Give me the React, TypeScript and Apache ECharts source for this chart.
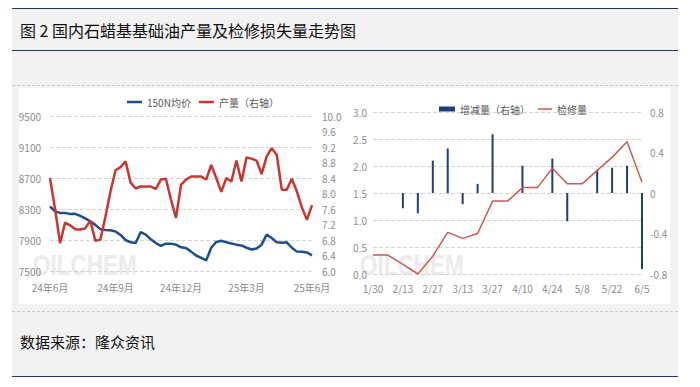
import React, { useEffect, useRef } from "react";
import * as echarts from "echarts";

// ---------- data ----------
const weeks = [
  "24-06-06", "24-06-13", "24-06-20", "24-06-27", "24-07-04", "24-07-11", "24-07-18", "24-07-25",
  "24-08-01", "24-08-08", "24-08-15", "24-08-22", "24-08-29", "24-09-05", "24-09-12", "24-09-19",
  "24-09-26", "24-10-03", "24-10-10", "24-10-17", "24-10-24", "24-10-31", "24-11-07", "24-11-14",
  "24-11-21", "24-11-28", "24-12-05", "24-12-12", "24-12-19", "24-12-26", "25-01-02", "25-01-09",
  "25-01-16", "25-01-23", "25-01-30", "25-02-06", "25-02-13", "25-02-20", "25-02-27", "25-03-06",
  "25-03-13", "25-03-20", "25-03-27", "25-04-03", "25-04-10", "25-04-17", "25-04-24", "25-05-01",
  "25-05-08", "25-05-15", "25-05-22", "25-05-29", "25-06-05",
];

const price150N = [
  8334, 8270, 8250, 8250, 8235, 8238, 8210, 8178, 8141, 8095, 8040, 8030, 8025, 8010, 7965, 7900,
  7870, 7861, 8003, 7969, 7910, 7860, 7825, 7853, 7853, 7840, 7805, 7797, 7750, 7700, 7670, 7637,
  7800, 7875, 7890, 7870, 7855, 7840, 7830, 7800, 7778, 7790, 7840, 7969, 7925, 7870, 7865, 7870,
  7800, 7750, 7748, 7740, 7702,
];

const output = [
  8.4, 7.6, 6.72, 7.25, 7.18, 7.08, 7.07, 7.1, 7.3, 6.78, 6.81, 7.4, 8.05, 8.6, 8.68, 8.83,
  8.28, 8.13, 8.18, 8.18, 8.18, 8.12, 8.36, 8.38, 7.85, 7.37, 8.22, 8.36, 8.44, 8.44, 8.44, 8.36,
  8.74, 8.4, 8.04, 8.4, 8.31, 8.85, 8.31, 8.93, 8.9, 8.85, 8.5, 8.96, 9.17, 9.0, 8.1, 8.1,
  8.38, 8.05, 7.64, 7.32, 7.7,
];

const recentWeeks = [
  "1/30", "2/6", "2/13", "2/20", "2/27", "3/6", "3/13", "3/20", "3/27", "4/3",
  "4/10", "4/17", "4/24", "5/1", "5/8", "5/15", "5/22", "5/29", "6/5",
];

const maintenance = [
  0.35, 0.35, 0.18, 0.0, 0.33, 0.77, 0.66, 0.75, 1.35, 1.35,
  1.6, 1.6, 1.96, 1.67, 1.67, 1.92, 2.16, 2.45, 1.7,
];

const change = [
  0, 0, -0.15, -0.2, 0.32, 0.44, -0.11, 0.09, 0.58, 0,
  0.27, 0, 0.34, -0.28, 0, 0.23, 0.25, 0.27, -0.75,
];

const priceTicks = [7500, 7900, 8300, 8700, 9100, 9500];

const titleText = "图 2 国内石蜡基基础油产量及检修损失量走势图";
const sourceText = "数据来源：隆众资讯";

// ---------- styles ----------
const NAVY = "#1f3864";
const FONT = "Noto Sans CJK SC";
const LABEL = { color: "#8c8c8c", fontSize: 10, fontFamily: FONT };
const LEGEND_TEXT = { color: "#595959", fontSize: 10, fontFamily: FONT };
const SPLIT = { show: true, lineStyle: { type: "dashed" as const, color: "#d4d4d4", width: 1 } };

export default function App() {
  const ref = useRef<HTMLDivElement>(null);

  useEffect(() => {
    if (!ref.current) return;
    const chart = echarts.init(ref.current, null, { renderer: "svg" });
    chart.setOption({
      animation: false,
      textStyle: { fontFamily: FONT },
      legend: [
        {
          data: [
            { name: "150N均价", icon: "rect" },
            { name: "产量（右轴）", icon: "rect" },
          ],
          left: 122,
          top: 92,
          itemWidth: 15,
          itemHeight: 2.5,
          itemGap: 8,
          textStyle: LEGEND_TEXT,
        },
        {
          data: [{ name: "增减量（右轴）", icon: "rect" }],
          left: 434,
          top: 99,
          itemWidth: 16,
          itemHeight: 5,
          textStyle: LEGEND_TEXT,
        },
        {
          data: [{ name: "检修量", icon: "rect" }],
          left: 533,
          top: 99,
          itemWidth: 14,
          itemHeight: 1.5,
          textStyle: LEGEND_TEXT,
        },
      ],
      grid: [
        { left: 50, right: 388, top: 116, bottom: 116 },
        { left: 373, right: 58, top: 112, bottom: 113 },
      ],
      xAxis: [
        {
          type: "category",
          gridIndex: 0,
          data: weeks,
          boundaryGap: false,
          axisLine: { show: false },
          axisTick: { show: false },
          axisLabel: {
            ...LABEL,
            interval: 12,
            margin: 11,
            formatter: (s: string) => {
              const [y, m] = s.split("-");
              return `${y}年${Number(m)}月`;
            },
          },
        },
        {
          type: "category",
          gridIndex: 1,
          data: recentWeeks,
          boundaryGap: false,
          axisLine: { show: false },
          axisTick: { show: false },
          axisLabel: { ...LABEL, interval: 1, margin: 9 },
        },
      ],
      yAxis: [
        {
          type: "value",
          gridIndex: 0,
          min: 7500,
          max: 9500,
          axisLine: { show: false },
          axisTick: { show: false, customValues: priceTicks },
          axisLabel: { ...LABEL, margin: 9, customValues: priceTicks, formatter: (v: number) => String(v) },
          splitLine: SPLIT,
        },
        {
          type: "value",
          gridIndex: 0,
          position: "right",
          min: 6,
          max: 10,
          interval: 0.4,
          axisLine: { show: false },
          axisTick: { show: false },
          axisLabel: { ...LABEL, margin: 10, formatter: (v: number) => v.toFixed(1) },
          splitLine: { show: false },
        },
        {
          type: "value",
          gridIndex: 1,
          min: 0,
          max: 3,
          interval: 0.5,
          axisLine: { show: false },
          axisTick: { show: false },
          axisLabel: { ...LABEL, margin: 6, formatter: (v: number) => v.toFixed(1) },
          splitLine: SPLIT,
        },
        {
          type: "value",
          gridIndex: 1,
          position: "right",
          min: -0.8,
          max: 0.8,
          interval: 0.4,
          axisLine: { show: false },
          axisTick: { show: false },
          axisLabel: {
            ...LABEL,
            margin: 8,
            formatter: (v: number) => (Math.abs(v) < 1e-9 ? "0" : v.toFixed(1)),
          },
          splitLine: { show: false },
        },
      ],
      graphic: {
        elements: [
          {
            type: "text",
            x: 33,
            y: 250,
            scaleX: 0.75,
            z: 0,
            silent: true,
            style: {
              text: "OILCHEM",
              fill: "#ebebeb",
              font: "bold 30px 'Liberation Sans'",
            },
          },
          {
            type: "text",
            x: 360,
            y: 250,
            scaleX: 0.75,
            z: 0,
            silent: true,
            style: {
              text: "OILCHEM",
              fill: "#ebebeb",
              font: "bold 30px 'Liberation Sans'",
            },
          },
        ],
      },
      series: [
        {
          name: "150N均价",
          type: "line",
          xAxisIndex: 0,
          yAxisIndex: 0,
          data: price150N,
          symbol: "none",
          color: "#1f4e8c",
          lineStyle: { width: 2.5, color: "#1f4e8c" },
          z: 3,
        },
        {
          name: "产量（右轴）",
          type: "line",
          xAxisIndex: 0,
          yAxisIndex: 1,
          data: output,
          symbol: "none",
          color: "#c8372d",
          lineStyle: { width: 2.5, color: "#c8372d" },
        },
        {
          name: "增减量（右轴）",
          type: "bar",
          xAxisIndex: 1,
          yAxisIndex: 3,
          data: change,
          barWidth: 2,
          color: "#1f3d7a",
          itemStyle: { color: "#1f3d7a" },
        },
        {
          name: "检修量",
          type: "line",
          xAxisIndex: 1,
          yAxisIndex: 2,
          data: maintenance,
          symbol: "none",
          color: "#cc5a4f",
          lineStyle: { width: 1.5, color: "#cc5a4f" },
        },
      ],
    });
    return () => chart.dispose();
  }, []);

  const line = (top: number, color: string, dashed = false, w = 1.5) => (
    <div
      style={{
        position: "absolute",
        left: 12,
        top,
        width: 666,
        height: 0,
        borderTop: `${w}px ${dashed ? "dashed" : "solid"} ${color}`,
      }}
    />
  );

  return (
    <div
      style={{
        position: "fixed",
        left: 0,
        top: 0,
        width: 700,
        height: 387,
        background: "#ffffff",
        overflow: "hidden",
        fontFamily: "'Noto Sans CJK SC', sans-serif",
      }}
    >
      <div style={{ position: "absolute", left: 12, top: 9, width: 666, height: 368, background: "#f2f2f2" }} />
      <div style={{ position: "absolute", left: 19, top: 88, width: 651, height: 216, background: "#ffffff" }} />
      {line(8, NAVY)}
      {line(50, NAVY)}
      {line(85, "#c9c9c9", true, 1)}
      {line(311, "#c9c9c9", true, 1)}
      {line(376, NAVY)}
      <div
        style={{
          position: "absolute",
          left: 20,
          top: 19,
          fontSize: 16,
          lineHeight: "22px",
          color: "#111",
          whiteSpace: "nowrap",
        }}
      >
        {titleText}
      </div>
      <div
        style={{
          position: "absolute",
          left: 20,
          top: 331,
          fontSize: 15,
          lineHeight: "22px",
          color: "#111",
          whiteSpace: "nowrap",
        }}
      >
        {sourceText}
      </div>
      <div ref={ref} style={{ position: "absolute", left: 0, top: 0, width: 700, height: 387 }} />
    </div>
  );
}
